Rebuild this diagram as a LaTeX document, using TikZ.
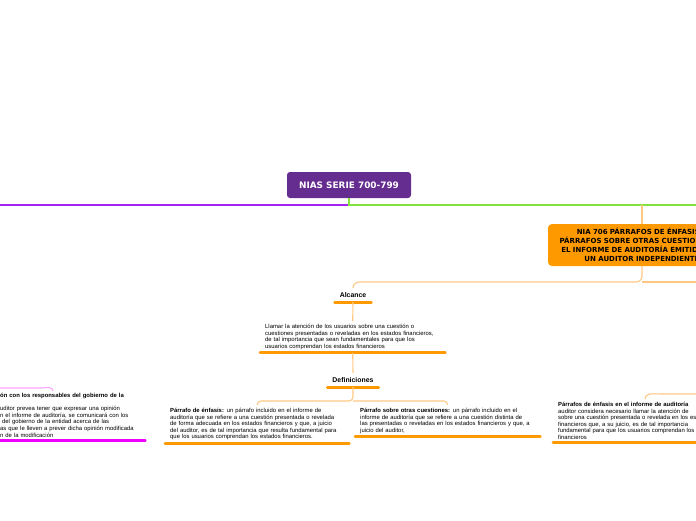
\documentclass[tikz,border=0pt]{standalone}
\usepackage{fontspec}
\setmainfont{Liberation Sans}
\newfontfamily\verdfont{DejaVu Sans}
\usetikzlibrary{positioning}

\definecolor{rootpurple}{RGB}{102,45,145}
\definecolor{wirepurple}{RGB}{165,35,240}
\definecolor{wiregreen}{RGB}{130,225,60}
\definecolor{niaorange}{RGB}{255,153,0}
\definecolor{wireorange}{RGB}{255,200,130}
\definecolor{ulmagenta}{RGB}{240,0,255}
\definecolor{wirepink}{RGB}{255,165,255}

\tikzset{
  rootbox/.style={fill=rootpurple, rounded corners=3pt, text=white,
    minimum width=124pt, minimum height=26pt,
    font=\verdfont\bfseries\fontsize{8.9}{10}\selectfont},
  niabox/.style={fill=niaorange, rounded corners=4pt, align=center,
    text width=178pt, inner xsep=5pt, minimum height=42pt,
    font=\verdfont\bfseries\fontsize{7}{9}\selectfont},
  topic/.style={inner xsep=5pt, inner ysep=0pt, minimum height=14pt,
    font=\bfseries\fontsize{6.9}{7.5}\selectfont},
  textblock/.style={anchor=north west, align=left, inner xsep=5pt,
    inner ysep=3pt, font=\fontsize{5.9}{6.6}\selectfont},
  uline/.style={draw=niaorange, line width=2.6pt, line cap=round},
  ulpink/.style={draw=ulmagenta, line width=2.6pt, line cap=round},
  wire/.style={draw=wireorange, line width=1.1pt},
}

\begin{document}
\begin{tikzpicture}[x=1pt,y=-1pt]
\useasboundingbox (0,0) rectangle (696,520);
\clip (0,0) rectangle (696,520);

% root and main branches
\node[rootbox] (root) at (349,185) {NIAS SERIE 700-799};
\coordinate (hub) at (349,205);
\coordinate (westedge) at (-5,205);
\coordinate (eastedge) at (705,205);
\draw[wirepurple, line width=1.8pt] (hub) -- (westedge);
\draw[wiregreen, line width=1.8pt] (root.south) -- (hub) -- (eastedge);

\node[niabox] (nia) at (642,245) {NIA 706 PÁRRAFOS DE ÉNFASIS Y\\
  PÁRRAFOS SOBRE OTRAS CUESTIONES EN\\
  EL INFORME DE AUDITORÍA EMITIDO POR\\
  UN AUDITOR INDEPENDIENTE};
\draw[wire] (nia.north |- hub) -- (nia.north);

% alcance
\node[topic] (alcance) at (353,295) {Alcance};
\draw[uline] (alcance.south west) -- (alcance.south east);
\coordinate (niafork) at (642,282);
\coordinate (eastfork) at (705,282);
\draw[wire, rounded corners=6pt] (nia.south) -- (niafork) -| (alcance.north);
\draw[wire] (niafork) -- (eastfork);

\node[textblock, text width=175pt] (llamar) at (260,321)
  {Llamar la atención de los usuarios sobre una cuestión o\\
   cuestiones presentadas o reveladas en los estados financieros,\\
   de tal importancia que sean fundamentales para que los\\
   usuarios comprendan los estados financieros};
\draw[uline] (llamar.south west) -- (llamar.south east);
\draw[wire] (alcance.south) -- (llamar.north);

% definiciones
\node[topic] (defin) at (353,380) {Definiciones};
\draw[uline] (defin.south west) -- (defin.south east);
\draw[wire] (llamar.south) -- (defin.north);

\node[textblock, text width=174pt] (enfasisdef) at (165,405)
  {\textbf{Párrafo de énfasis:} un párrafo incluido en el informe de\\
   auditoría que se refiere a una cuestión presentada o revelada\\
   de forma adecuada en los estados financieros y que, a juicio\\
   del auditor, es de tal importancia que resulta fundamental para\\
   que los usuarios comprendan los estados financieros.};
\draw[uline] (enfasisdef.south west) -- (enfasisdef.south east);

\node[textblock, text width=175pt] (otrasdef) at (355,405)
  {\textbf{Párrafo sobre otras cuestiones:} un párrafo incluido en el\\
   informe de auditoría que se refiere a una cuestión distinta de\\
   las presentadas o reveladas en los estados financieros y que, a\\
   juicio del auditor,};
\draw[uline] (otrasdef.south west) -- (otrasdef.south east);

\coordinate (deffork) at (353,401);
\draw[wire, rounded corners=4pt] (defin.south) -- (deffork) -| (enfasisdef.north);
\draw[wire, rounded corners=4pt] (deffork) -| (otrasdef.north);

% right branch
\node[textblock, text width=174pt] (enfasisinf) at (553,399)
  {\textbf{Párrafos de énfasis en el informe de auditoría}\\
   auditor considera necesario llamar la atención de\\
   sobre una cuestión presentada o revelada en los estados\\
   financieros que, a su juicio, es de tal importancia\\
   fundamental para que los usuarios comprendan los\\
   financieros};
\draw[uline] (enfasisinf.south west) -- (enfasisinf.south east);
\coordinate (eastdrop) at (705,394);
\draw[wire] (eastdrop) -- (662,394) to[out=180,in=90] (enfasisinf.north);

% left branch
\node[textblock, text width=140pt] (comunic) at (-5,390)
  {\textbf{ón con los responsables del gobierno de la}\\[6.6pt]
   uditor prevea tener que expresar una opinión\\
   n el informe de auditoría, se comunicará con los\\
   \ del gobierno de la entidad acerca de las\\
   as que le lleven a prever dicha opinión modificada\\
   n de la modificación};
\draw[ulpink] (comunic.south west) -- (comunic.south east);
\coordinate (westdrop) at (-5,388);
\coordinate (pinkdrop) at (53,391);
\draw[draw=wirepink, line width=1.1pt] (westdrop) -- (40,388) to[out=0,in=90] (pinkdrop);
\end{tikzpicture}
\end{document}
